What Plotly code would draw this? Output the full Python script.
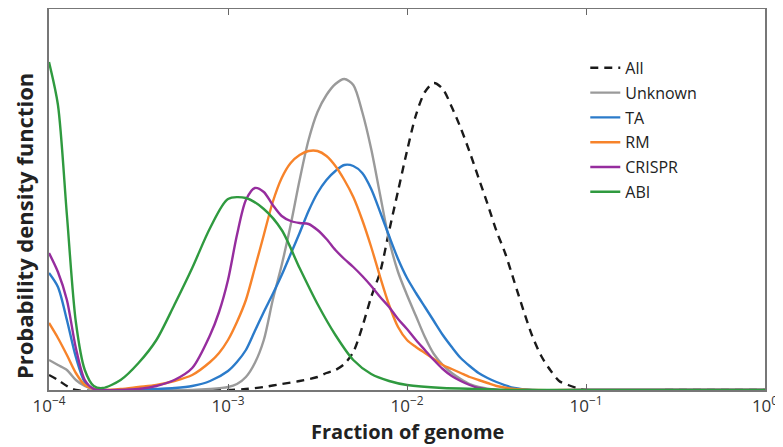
import plotly.graph_objects as go

# ---- data: x as log10(fraction of genome), y as probability density (arbitrary units) ----
all_logx = [-4.0, -3.95, -3.9, -3.85, -3.5, -3.0, -2.9, -2.8, -2.7, -2.6, -2.5, -2.45, -2.4,
            -2.35, -2.3, -2.25, -2.2, -2.15, -2.1, -2.05, -2.0, -1.95, -1.9, -1.85, -1.8,
            -1.75, -1.7, -1.65, -1.6, -1.55, -1.5, -1.45, -1.4, -1.35, -1.3, -1.25, -1.2,
            -1.15, -1.1, -1.05, -1.0, -0.5, 0.0]
all_y = [0.15, 0.10, 0.04, 0.0, 0.0, 0.0, 0.01, 0.03, 0.06, 0.09, 0.13, 0.17, 0.20,
         0.26, 0.38, 0.63, 0.93, 1.18, 1.59, 1.99, 2.39, 2.75, 2.98, 3.07, 3.01,
         2.83, 2.62, 2.38, 2.12, 1.86, 1.59, 1.36, 1.08, 0.80, 0.54, 0.34, 0.20,
         0.09, 0.05, 0.02, 0.0, 0.0, 0.0]

unk_logx = [-4.0, -3.95, -3.9, -3.85, -3.8, -3.75, -3.7, -3.4, -3.2, -3.1, -3.0, -2.95, -2.9,
            -2.85, -2.8, -2.75, -2.7, -2.65, -2.6, -2.55, -2.5, -2.45, -2.4, -2.35, -2.3,
            -2.25, -2.2, -2.15, -2.1, -2.05, -2.0, -1.95, -1.9, -1.85, -1.8, -1.75, -1.7,
            -1.65, -1.6, -1.5, -1.0, 0.0]
unk_y = [0.30, 0.25, 0.20, 0.10, 0.04, 0.01, 0.0, 0.0, 0.0, 0.01, 0.03, 0.06, 0.13,
         0.27, 0.50, 0.90, 1.25, 1.65, 2.10, 2.50, 2.78, 2.95, 3.06, 3.11, 3.05,
         2.78, 2.41, 1.95, 1.50, 1.18, 0.95, 0.74, 0.53, 0.36, 0.25, 0.17, 0.11,
         0.06, 0.03, 0.0, 0.0, 0.0]

ta_logx = [-4.0, -3.95, -3.9, -3.85, -3.8, -3.75, -3.7, -3.5, -3.4, -3.3, -3.2, -3.1, -3.0,
           -2.95, -2.9, -2.85, -2.8, -2.75, -2.7, -2.65, -2.6, -2.55, -2.5, -2.45, -2.4,
           -2.35, -2.3, -2.25, -2.2, -2.15, -2.1, -2.05, -2.0, -1.95, -1.9, -1.85, -1.8,
           -1.75, -1.7, -1.65, -1.6, -1.55, -1.5, -1.4, -1.3, -1.0, 0.0]
ta_y = [1.17, 1.03, 0.70, 0.33, 0.08, 0.01, 0.0, 0.0, 0.01, 0.02, 0.04, 0.09, 0.19,
        0.28, 0.40, 0.59, 0.78, 0.96, 1.15, 1.36, 1.57, 1.79, 1.97, 2.10, 2.19,
        2.25, 2.24, 2.17, 2.01, 1.78, 1.54, 1.31, 1.12, 0.97, 0.83, 0.69, 0.55,
        0.43, 0.32, 0.24, 0.17, 0.12, 0.08, 0.02, 0.0, 0.0, 0.0]

rm_logx = [-4.0, -3.95, -3.9, -3.85, -3.8, -3.75, -3.7, -3.6, -3.5, -3.4, -3.3, -3.2, -3.1,
           -3.05, -3.0, -2.95, -2.9, -2.85, -2.8, -2.75, -2.7, -2.65, -2.6, -2.55, -2.5,
           -2.45, -2.4, -2.35, -2.3, -2.25, -2.2, -2.15, -2.1, -2.05, -2.0, -1.95, -1.9,
           -1.85, -1.8, -1.75, -1.7, -1.65, -1.6, -1.55, -1.5, -1.4, -1.3, -1.0, 0.0]
rm_y = [0.67, 0.52, 0.35, 0.17, 0.05, 0.01, 0.0, 0.01, 0.03, 0.05, 0.09, 0.15, 0.28,
        0.37, 0.50, 0.68, 0.90, 1.22, 1.55, 1.88, 2.12, 2.27, 2.35, 2.39, 2.39,
        2.34, 2.24, 2.10, 1.93, 1.70, 1.43, 1.13, 0.85, 0.63, 0.50, 0.43, 0.37,
        0.31, 0.25, 0.21, 0.17, 0.13, 0.10, 0.07, 0.04, 0.01, 0.0, 0.0, 0.0]

crispr_logx = [-4.0, -3.95, -3.9, -3.85, -3.8, -3.75, -3.7, -3.6, -3.5, -3.4, -3.3, -3.2,
               -3.1, -3.05, -3.0, -2.95, -2.9, -2.85, -2.8, -2.75, -2.7, -2.65, -2.6, -2.55,
               -2.5, -2.45, -2.4, -2.35, -2.3, -2.25, -2.2, -2.15, -2.1, -2.05, -2.0, -1.95,
               -1.9, -1.85, -1.8, -1.75, -1.7, -1.65, -1.6, -1.5, -1.0, 0.0]
crispr_y = [1.37, 1.18, 0.90, 0.42, 0.10, 0.01, 0.0, 0.0, 0.01, 0.04, 0.10, 0.22,
            0.55, 0.78, 1.10, 1.55, 1.90, 2.02, 1.98, 1.85, 1.74, 1.69, 1.67, 1.66,
            1.60, 1.51, 1.40, 1.31, 1.23, 1.14, 1.04, 0.93, 0.83, 0.71, 0.61, 0.50,
            0.40, 0.30, 0.21, 0.14, 0.09, 0.05, 0.02, 0.0, 0.0, 0.0]

abi_logx = [-4.0, -3.95, -3.9, -3.85, -3.8, -3.75, -3.7, -3.6, -3.5, -3.4, -3.3, -3.2, -3.1,
            -3.0, -2.9, -2.8, -2.7, -2.6, -2.5, -2.4, -2.3, -2.2, -2.1, -2.0, -1.8, -1.6,
            -1.4, 0.0]
abi_y = [3.28, 2.85, 1.75, 0.68, 0.20, 0.04, 0.02, 0.10, 0.27, 0.50, 0.85, 1.22, 1.62,
         1.91, 1.92, 1.81, 1.60, 1.22, 0.86, 0.55, 0.30, 0.16, 0.09, 0.05, 0.02, 0.01,
         0.0, 0.0]

series_names = ["All", "Unknown", "TA", "RM", "CRISPR", "ABI"]
series_logx = [all_logx, unk_logx, ta_logx, rm_logx, crispr_logx, abi_logx]
series_y = [all_y, unk_y, ta_y, rm_y, crispr_y, abi_y]
series_colors = ["#1a1a1a", "#9a9a9a", "#2b7bca", "#f7832a", "#962d9e", "#2f9a3f"]
series_dash = ["8px,6px", "solid", "solid", "solid", "solid", "solid"]

tick_vals = [1e-4, 1e-3, 1e-2, 1e-1, 1]
tick_text = ["10<sup>−4</sup>", "10<sup>−3</sup>", "10<sup>−2</sup>", "10<sup>−1</sup>", "10<sup>0</sup>"]

FONT = "Open Sans, Lato, DejaVu Sans, sans-serif"

fig = go.Figure()
for name, lx, yy, col, dsh in zip(series_names, series_logx, series_y, series_colors, series_dash):
    fig.add_trace(go.Scatter(
        x=[10 ** v for v in lx], y=yy, mode="lines", name=name,
        legendgroup=name,
        line=dict(color=col, width=2.4, dash=dsh, shape="spline", smoothing=0.8),
    ))

# the page body adds an 8px offset; the figure is sized to compensate
fig.update_layout(
    width=775, height=439,
    margin=dict(l=41, r=18, t=1, b=57, autoexpand=False),
    paper_bgcolor="white", plot_bgcolor="white",
    font=dict(family=FONT, size=14, color="#222"),
    showlegend=True,
    legend=dict(x=0.749, y=0.89, xanchor="left", yanchor="top",
                bgcolor="rgba(0,0,0,0)", font=dict(size=16, color="#222"),
                traceorder="grouped", tracegroupgap=1, itemwidth=30),
    xaxis=dict(type="log", range=[-4, 0], tickvals=tick_vals, ticktext=tick_text,
               ticks="inside", ticklen=6, tickcolor="#666", tickwidth=1,
               showline=True, linecolor="#777", linewidth=1.5, mirror="ticks",
               showgrid=False, zeroline=False, automargin=False,
               tickfont=dict(size=17, color="#333")),
    yaxis=dict(range=[0, 3.81], showticklabels=False, ticks="",
               showline=True, linecolor="#777", linewidth=1.5, mirror=True,
               showgrid=False, zeroline=False, automargin=False),
    annotations=[
        dict(text="<b>Fraction of genome</b>", xref="paper", yref="paper",
             x=0.5, y=-0.11, xanchor="center", yanchor="middle", showarrow=False,
             font=dict(size=20, color="#222")),
        dict(text="<b>Probability density function</b>", xref="paper", yref="paper",
             x=-0.035, y=0.43, xanchor="center", yanchor="middle", showarrow=False,
             textangle=-90, font=dict(size=22, color="#222")),
    ],
)

fig.write_html("out.html")
